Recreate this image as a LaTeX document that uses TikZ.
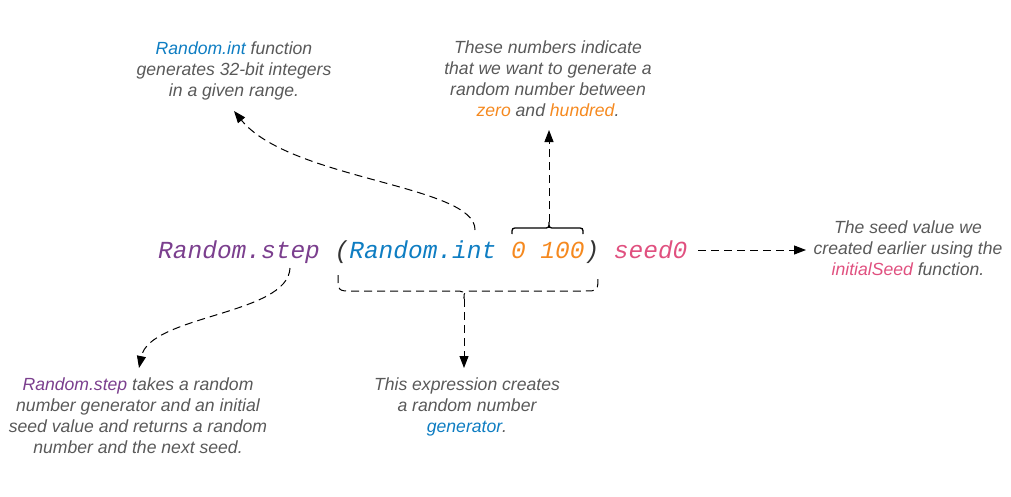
\documentclass[tikz,border=0pt]{standalone}
\usepackage{fontspec}
\setmainfont{Liberation Sans}
\newfontfamily\codefont{Liberation Mono}
\usetikzlibrary{arrows.meta}
\definecolor{cpurple}{HTML}{7B3F8E}
\definecolor{cblue}{HTML}{0E7DC2}
\definecolor{corange}{HTML}{F5891F}
\definecolor{cpink}{HTML}{E0507F}
\definecolor{cgray}{HTML}{595959}
\definecolor{cparen}{HTML}{333333}
\tikzset{
  note/.style={font=\fontsize{17.6}{21}\selectfont\itshape, text=cgray, align=center, inner sep=0pt, anchor=base},
  code/.style={font=\fontsize{24.5}{28}\selectfont\codefont\itshape, inner sep=0pt, anchor=base west},
  dsh/.style={dash pattern=on 8pt off 5pt, line width=1pt},
  arr/.style={-{Triangle[length=12pt,width=9pt]}},
}
\begin{document}
\begin{tikzpicture}[x=1pt,y=-1pt]
\useasboundingbox (0,0) rectangle (1011,496);
% code line
\node[code, text=cpurple] (step) at (158,258) {Random.step};
\node[code, text=cparen] (lp) at (334.4,258) {(};
\node[code, text=cblue] (int) at (349.1,258) {Random.int};
\node[code, text=corange] (nums) at (510.8,258) {0 100};
\node[code, text=cparen] (rp) at (584.3,258) {)};
\node[code, text=cpink] (seed) at (613.7,258) {seed0};
% notes (anchor = baseline of the last line)
\node[note] (nint) at (234,96) {\textcolor{cblue}{Random.int} function\\generates 32-bit integers\\in a given range.};
\node[note] (nnum) at (548,116) {These numbers indicate\\that we want to generate a\\random number between\\\textcolor{corange}{zero} and \textcolor{corange}{hundred}.};
\node[note] (nseed) at (908,275) {The seed value we\\created earlier using the\\\textcolor{cpink}{initialSeed} function.};
\node[note] (nstep) at (138,453) {\textcolor{cpurple}{Random.step} takes a random\\number generator and an initial\\seed value and returns a random\\number and the next seed.};
\node[note] (nexpr) at (467,432) {This expression creates\\a random number\\\textcolor{cblue}{generator}.};
% coordinates
\coordinate (intstart) at (475,230);
\coordinate (intend) at (234,111);
\coordinate (numtip) at (549,222);
\coordinate (numend) at (549,130);
\coordinate (exprtip) at (464,299);
\coordinate (exprend) at (464,368);
\coordinate (stepstart) at (290,268);
\coordinate (stepend) at (139,368);
\coordinate (seedstart) at (698,250);
\coordinate (seedend) at (806,250);
% top brace (solid)
\draw[line width=1.3pt] (512,234) .. controls (512,228) .. (518,228) -- (543,228) .. controls (549,228) .. (numtip) .. controls (549,228) .. (555,228) -- (577,228) .. controls (583,228) .. (583,234);
\draw[dsh, arr] (numtip) -- (numend);
% bottom brace (dashed)
\draw[dsh] (338,275) .. controls (338,291) .. (352,291) -- (454,291) .. controls (464,291) .. (exprtip) .. controls (464,291) .. (474,291) -- (584,291) .. controls (598,291) .. (598,275);
\draw[dsh, arr] (exprtip) -- (exprend);
% curves
\draw[dsh, arr] (intstart) .. controls (476,185) and (290,180) .. (intend);
\draw[dsh, arr] (stepstart) .. controls (288,315) and (150,315) .. (stepend);
\draw[dsh, arr] (seedstart) -- (seedend);
\end{tikzpicture}
\end{document}
